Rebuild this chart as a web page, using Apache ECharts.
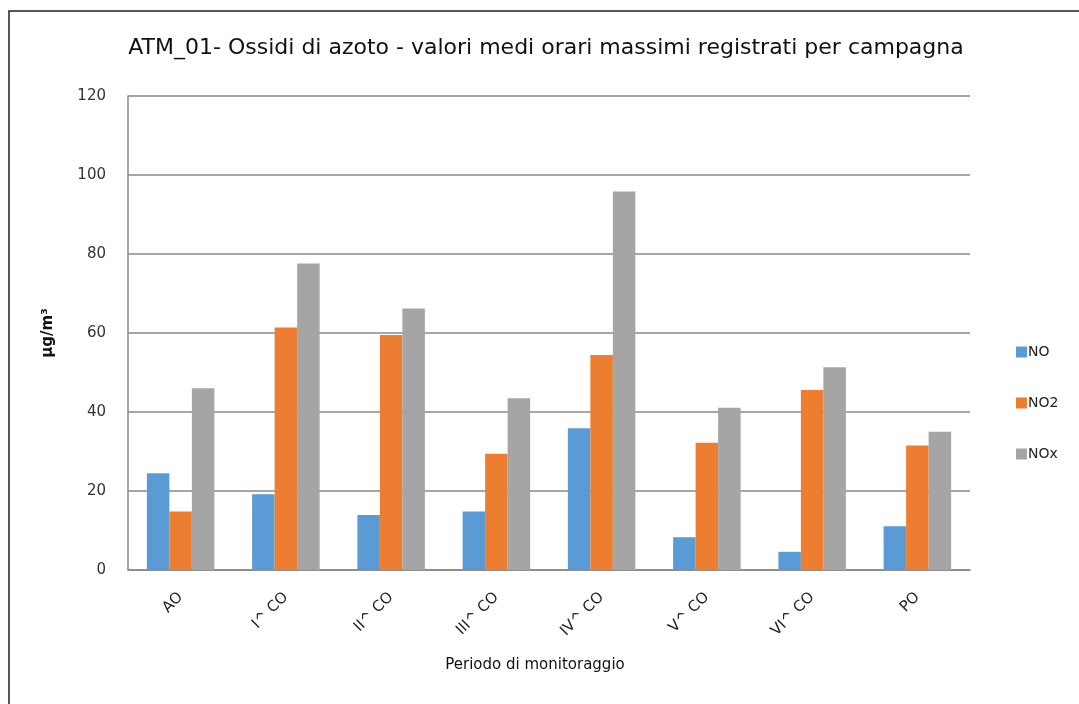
<!DOCTYPE html>
<html><head><meta charset="utf-8">
<script src="https://cdn.jsdelivr.net/npm/echarts@6/dist/echarts.min.js"></script>
<style>html,body{margin:0;padding:0;background:#fff}#c{width:1079px;height:704px}</style>
</head><body><div id="c"></div>
<script>
const categories = ["AO", "I^ CO", "II^ CO", "III^ CO", "IV^ CO", "V^ CO", "VI^ CO", "PO"];
const seriesNames = ["NO", "NO2", "NOx"];
const valuesNO = [24.5, 19.2, 13.9, 14.8, 35.9, 8.3, 4.6, 11.1];
const valuesNO2 = [14.8, 61.4, 59.5, 29.4, 54.4, 32.2, 45.6, 31.5];
const valuesNOx = [46.0, 77.6, 66.2, 43.5, 95.8, 41.1, 51.3, 35.0];
const yTicks = [0, 20, 40, 60, 80, 100, 120];

const colors = ["#5B9BD5", "#ED7D31", "#A5A5A5"];
const font = "'DejaVu Sans', 'Liberation Sans', sans-serif";
const chart = echarts.init(document.getElementById('c'), null, {renderer: 'canvas'});
const dataSets = [valuesNO, valuesNO2, valuesNOx];
chart.setOption({
  animation: false,
  backgroundColor: '#fff',
  graphic: [{
    type: 'rect', shape: {x: 9, y: 11, width: 1200, height: 800},
    style: {fill: 'none', stroke: '#222', lineWidth: 1.5}, silent: true
  }],
  title: {
    text: 'ATM_01- Ossidi di azoto - valori medi orari massimi registrati per campagna',
    left: 541, top: 32, textAlign: 'center',
    textStyle: {fontFamily: font, fontSize: 22, fontWeight: 'normal', color: '#111'}
  },
  legend: {
    orient: 'vertical', left: 1011, top: 340, itemGap: 37,
    itemWidth: 11, itemHeight: 11, icon: 'rect',
    textStyle: {fontFamily: font, fontSize: 14, color: '#222', padding: [0, 0, 0, -4]},
    data: seriesNames
  },
  grid: {left: 128, right: 109, top: 96, bottom: 134, containLabel: false},
  xAxis: {
    type: 'category', data: categories,
    axisLine: {show: true, lineStyle: {color: '#888', width: 1.5}},
    axisTick: {show: false},
    axisLabel: {rotate: 45, fontFamily: font, fontSize: 15, color: '#222', margin: 25, interval: 0},
    name: 'Periodo di monitoraggio', nameLocation: 'middle', nameGap: 88,
    nameTextStyle: {fontFamily: font, fontSize: 15, color: '#111', padding: [0, 28, 0, 0]}
  },
  yAxis: {
    type: 'value', min: yTicks[0], max: yTicks[yTicks.length - 1], interval: 20,
    axisLine: {show: true, lineStyle: {color: '#888', width: 1.5}},
    axisTick: {show: false},
    splitLine: {lineStyle: {color: '#888', width: 1.5}},
    axisLabel: {fontFamily: font, fontSize: 15, color: '#333', margin: 22},
    name: 'µg/m³', nameLocation: 'middle', nameGap: 72, nameRotate: 90,
    nameTextStyle: {fontFamily: font, fontSize: 15, fontWeight: 'bold', color: '#111'}
  },
  series: seriesNames.map((n, i) => ({
    name: n, type: 'bar', data: dataSets[i],
    barWidth: 22.5, barGap: '0%', barCategoryGap: '35%',
    itemStyle: {color: colors[i]}
  }))
});
</script></body></html>
